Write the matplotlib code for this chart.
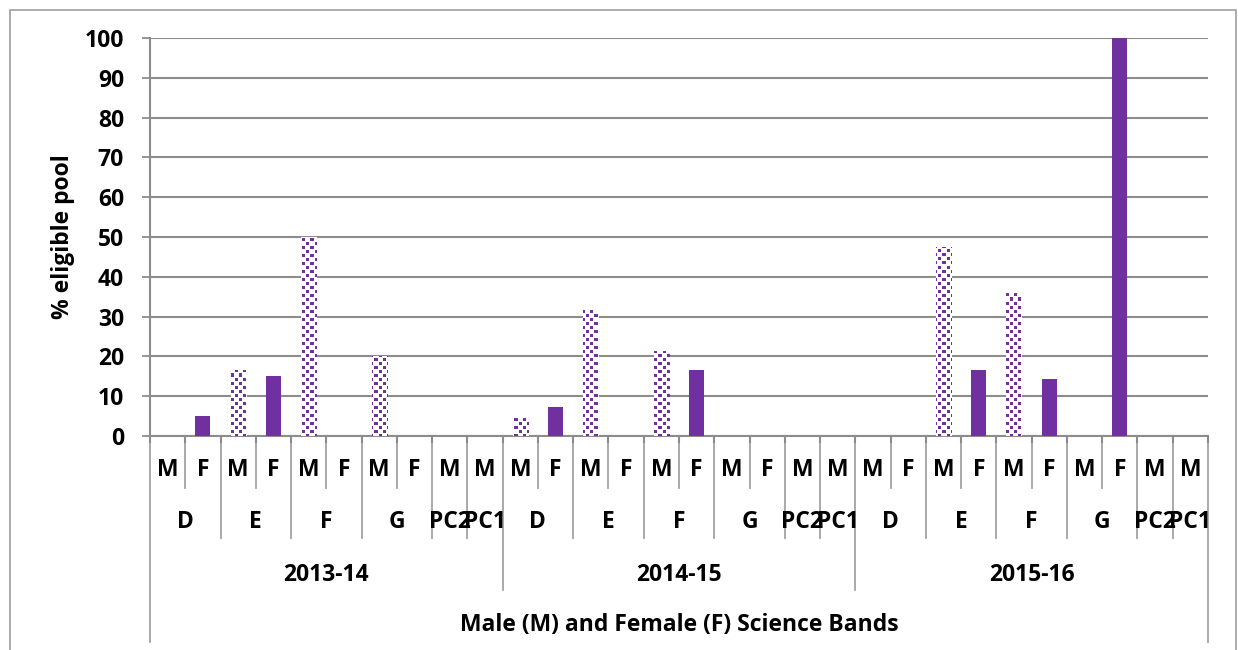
import numpy as np
import matplotlib
matplotlib.use("Agg")
import matplotlib.pyplot as plt
from matplotlib.transforms import blended_transform_factory
from matplotlib.patches import Rectangle

# ---- data -------------------------------------------------------------
years = ["2013-14", "2014-15", "2015-16"]
bands = ["D", "E", "F", "G", "PC2", "PC1"]
band_sexes = [["M", "F"], ["M", "F"], ["M", "F"], ["M", "F"], ["M"], ["M"]]

# % of eligible pool, in band/sex order: D M, D F, E M, E F, F M, F F, G M, G F, PC2 M, PC1 M
pct_2013_14 = [0, 5, 16.7, 15, 50, 0, 20, 0, 0, 0]
pct_2014_15 = [4.5, 7.3, 31.8, 0, 21.3, 16.7, 0, 0, 0, 0]
pct_2015_16 = [0, 0, 47.6, 16.7, 36.3, 14.3, 0, 100, 0, 0]

y_ticks = list(range(0, 101, 10))
y_label = "% eligible pool"
x_title = "Male (M) and Female (F) Science Bands"

# ---- style ------------------------------------------------------------
PURPLE = "#7030A0"
GRID = "#8c8c8c"
SEP = "#a3a3a3"
plt.rcParams["font.family"] = ["Open Sans", "DejaVu Sans"]
plt.rcParams["font.weight"] = "bold"
FS = 16.5

FIG_W, FIG_H = 1238, 650
fig = plt.figure(figsize=(FIG_W / 100, FIG_H / 100), dpi=100)
fig.patch.set_facecolor("white")

AX_L, AX_R, AX_T, AX_B = 150, 1208, 38, 436
ax = fig.add_axes([AX_L / FIG_W, 1 - AX_B / FIG_H,
                   (AX_R - AX_L) / FIG_W, (AX_B - AX_T) / FIG_H])

def fy(py):
    """Figure-fraction y from a pixel row counted from the top."""
    return 1 - py / FIG_H

# flatten the series into one sequence of categories
values, sexes = [], []
for series in (pct_2013_14, pct_2014_15, pct_2015_16):
    values.extend(series)
    for s in band_sexes:
        sexes.extend(s)
n = len(values)
x = np.arange(n)

# ---- bars -------------------------------------------------------------
bar_w = 0.43
colors = [PURPLE if s == "F" else "white" for s in sexes]
bars = ax.bar(x, values, width=bar_w, color=colors, edgecolor="none", zorder=3)

# staggered-square fill for the male bars
ph, pw = AX_B - AX_T, AX_R - AX_L
yy, xx = np.mgrid[0:ph, 0:pw]
P, SQ, OFF = 8, 3, 4
mask = ((xx % P < SQ) & (yy % P < SQ)) | \
       (((xx + OFF) % P < SQ) & ((yy + OFF) % P < SQ))
tile = np.ones((ph, pw, 4))
tile[mask, :3] = matplotlib.colors.to_rgb(PURPLE)
for patch, s, v in zip(bars.patches, sexes, values):
    if s == "M" and v > 0:
        im = ax.imshow(tile, extent=(-0.5, n - 0.5, 0, 100), origin="upper",
                       interpolation="nearest", aspect="auto", zorder=4)
        im.set_clip_path(patch)

ax.set_xlim(-0.5, n - 0.5)
ax.set_ylim(0, 100)

# ---- y axis -----------------------------------------------------------
ax.set_yticks(y_ticks)
ax.set_yticklabels([str(t) for t in y_ticks], fontsize=FS, fontweight="bold")
ax.tick_params(axis="y", length=5.8, width=1.3, color=GRID, pad=13)
ax.set_xticks([])
ax.yaxis.grid(True, color=GRID, linewidth=1.5)
ax.set_axisbelow(True)
for side in ("top", "right"):
    ax.spines[side].set_visible(False)
for side in ("left", "bottom"):
    ax.spines[side].set_color(GRID)
    ax.spines[side].set_linewidth(1.5)
ax.set_ylabel(y_label, fontsize=FS, fontweight="bold", labelpad=7)

# ---- multi-level category axis ---------------------------------------
tr = blended_transform_factory(ax.transData, fig.transFigure)
per_year = len(pct_2013_14)

# band start offsets within a year
starts, pos = [], 0
for s in band_sexes:
    starts.append(pos)
    pos += len(s)

for k in range(n + 1):
    off = k % per_year
    if k == 0 or k == n:
        bottom = 642
    elif off == 0:
        bottom = 590
    elif off in starts:
        bottom = 538
    else:
        bottom = 488
    xb = k - 0.5
    ax.plot([xb, xb], [fy(AX_B), fy(bottom)], color=SEP, lw=1.3,
            transform=tr, clip_on=False, zorder=1)
    ax.plot([xb, xb], [fy(AX_B), fy(AX_B + 6)], color=GRID, lw=1.5,
            transform=tr, clip_on=False, zorder=2)

for yi, yr in enumerate(years):
    base = yi * per_year
    for i in range(per_year):
        ax.text(base + i, fy(470), sexes[base + i], transform=tr,
                ha="center", va="center", fontsize=FS, fontweight="bold")
    for b, st, s in zip(bands, starts, band_sexes):
        ax.text(base + st + (len(s) - 1) / 2, fy(522), b, transform=tr,
                ha="center", va="center", fontsize=FS, fontweight="bold")
    ax.text(base + (per_year - 1) / 2, fy(575), yr, transform=tr,
            ha="center", va="center", fontsize=FS, fontweight="bold")

ax.text((n - 1) / 2, fy(625), x_title, transform=tr,
        ha="center", va="center", fontsize=FS, fontweight="bold")

# outer chart frame
fig.patches.append(Rectangle((10 / FIG_W, -0.02), (1236 - 10) / FIG_W,
                             fy(10) + 0.02, transform=fig.transFigure,
                             fill=False, edgecolor="#a6a6a6", lw=1.3))

fig.savefig("out.png", dpi=100, facecolor="white")
